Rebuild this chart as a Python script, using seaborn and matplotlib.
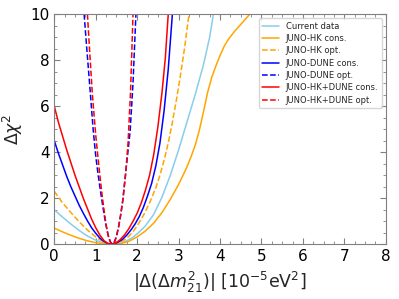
import seaborn as sns
import pandas as pd
import matplotlib.pyplot as plt
import numpy as np

# Current data
cur_x = [0, 0.2, 0.4, 0.6, 0.8, 1.0, 1.1, 1.2, 1.3, 1.4, 1.5, 1.6, 1.7, 1.8, 1.9, 2.0,
         2.2, 2.4, 2.6, 2.8, 3.0, 3.2, 3.4, 3.6, 3.75, 3.84]
cur_y = [1.5, 1.18, 0.88, 0.6, 0.36, 0.18, 0.11, 0.05, 0.015, 0.0, 0.015, 0.05, 0.11, 0.2, 0.31, 0.45,
         0.8, 1.3, 2.05, 3.0, 4.1, 5.3, 6.5, 7.8, 9.0, 10]

# JUNO-HK cons.
hkc_x = [0, 0.2, 0.4, 0.6, 0.8, 1.0, 1.2, 1.4, 1.6, 1.8, 2.0, 2.2, 2.4, 2.6, 2.8, 3.0,
         3.2, 3.3, 3.4, 3.5, 3.6, 3.7, 3.8, 3.9, 4.0, 4.1, 4.2, 4.35, 4.5, 4.72]
hkc_y = [0.7, 0.54, 0.39, 0.26, 0.15, 0.07, 0.02, 0.0, 0.03, 0.13, 0.32, 0.58, 0.92, 1.38, 1.95, 2.6,
         3.35, 3.8, 4.3, 4.95, 5.75, 6.6, 7.25, 7.75, 8.2, 8.6, 8.9, 9.25, 9.55, 10]

# JUNO-HK opt.
hko_x = [0, 0.2, 0.4, 0.6, 0.8, 1.0, 1.1, 1.2, 1.3, 1.4, 1.5, 1.6, 1.7, 1.8, 1.9, 2.0,
         2.15, 2.3, 2.45, 2.55, 2.65, 2.75, 2.85, 2.95, 3.05, 3.15, 3.25]
hko_y = [2.3, 1.8, 1.38, 0.98, 0.62, 0.32, 0.2, 0.1, 0.03, 0.0, 0.03, 0.1, 0.2, 0.35, 0.55, 0.8,
         1.25, 1.8, 2.45, 3.0, 3.65, 4.4, 5.3, 6.3, 7.4, 8.6, 10]

# JUNO-DUNE cons.
dc_x = [0, 0.1, 0.2, 0.3, 0.4, 0.5, 0.6, 0.7, 0.8, 0.9, 1.0, 1.1, 1.2, 1.3, 1.38, 1.45,
        1.55, 1.65, 1.75, 1.85, 1.95, 2.05, 2.15, 2.25, 2.35, 2.45, 2.55, 2.65, 2.75, 2.85]
dc_y = [4.5, 3.95, 3.45, 2.95, 2.5, 2.1, 1.7, 1.35, 1.02, 0.72, 0.48, 0.27, 0.12, 0.03, 0.0, 0.02,
        0.1, 0.22, 0.4, 0.62, 0.88, 1.2, 1.6, 2.1, 2.65, 3.4, 4.4, 5.8, 7.6, 10]

# JUNO-DUNE opt.
do_x = [0.72, 0.78, 0.86, 0.94, 1.0, 1.06, 1.12, 1.18, 1.24, 1.3, 1.35, 1.4, 1.45, 1.5,
        1.55, 1.6, 1.65, 1.71, 1.77, 1.83, 1.9, 1.97]
do_y = [10, 8.6, 6.8, 4.95, 3.85, 3.0, 2.25, 1.55, 0.9, 0.4, 0.12, 0.0, 0.1, 0.35,
        0.75, 1.25, 1.85, 2.9, 3.9, 4.9, 7.0, 10]

# JUNO-HK+DUNE cons.
hdc_x = [0, 0.1, 0.2, 0.3, 0.4, 0.5, 0.6, 0.7, 0.8, 0.9, 1.0, 1.1, 1.2, 1.28, 1.36, 1.44,
         1.52, 1.6, 1.7, 1.8, 1.9, 2.0, 2.1, 2.2, 2.3, 2.4, 2.5, 2.6, 2.68, 2.75]
hdc_y = [6.0, 5.3, 4.7, 4.1, 3.55, 3.0, 2.5, 2.0, 1.55, 1.1, 0.72, 0.4, 0.16, 0.04, 0.0, 0.02,
         0.1, 0.22, 0.42, 0.68, 1.0, 1.35, 1.8, 2.35, 3.0, 3.9, 5.1, 6.6, 8.1, 10]

# JUNO-HK+DUNE opt.
hdo_x = [0.8, 0.86, 0.92, 1.0, 1.05, 1.1, 1.15, 1.2, 1.25, 1.3, 1.35, 1.4, 1.45, 1.5,
         1.55, 1.6, 1.66, 1.72, 1.78, 1.84, 1.9]
hdo_y = [10, 8.2, 6.5, 4.75, 3.85, 3.0, 2.2, 1.5, 0.85, 0.38, 0.1, 0.0, 0.08, 0.32,
         0.72, 1.25, 2.0, 3.0, 4.4, 6.6, 10]

sns.set_style("ticks")
plt.rcParams['font.family'] = ['DejaVu Sans']

fig = plt.figure(figsize=(3.99, 2.99), dpi=100)
ax = fig.add_axes([0.136, 0.183, 0.831, 0.770])

series = [
    (cur_x, cur_y, "skyblue", "-", "Current data"),
    (hkc_x, hkc_y, "orange", "-", "JUNO-HK cons."),
    (hko_x, hko_y, "orange", "--", "JUNO-HK opt."),
    (dc_x, dc_y, "blue", "-", "JUNO-DUNE cons."),
    (do_x, do_y, "blue", "--", "JUNO-DUNE opt."),
    (hdc_x, hdc_y, "red", "-", "JUNO-HK+DUNE cons."),
    (hdo_x, hdo_y, "red", "--", "JUNO-HK+DUNE opt."),
]
for xs, ys, c, ls, lab in series:
    sns.lineplot(x=xs, y=ys, color=c, linestyle=ls, linewidth=1.1, label=lab, ax=ax)

ax.set_xlim(0, 8)
ax.set_ylim(0, 10)
ax.set_xticks(range(0, 9))
ax.set_yticks(range(0, 11, 2))
ax.xaxis.set_minor_locator(plt.MultipleLocator(0.25))
ax.yaxis.set_minor_locator(plt.MultipleLocator(0.5))
ax.tick_params(which="both", direction="in", top=True, right=True, colors="gray", labelcolor="black")
ax.tick_params(which="major", length=4.3, labelsize=11)
ax.tick_params(which="minor", length=2.4)
for s in ax.spines.values():
    s.set_color("gray")

ax.set_xlabel(r"$|\Delta(\Delta m^2_{21})|\ [10^{-5}\mathrm{eV}^2]$", fontsize=12.5)
ax.set_ylabel(r"$\Delta\chi^2$", fontsize=12.5)
ax.legend(loc="upper right", fontsize=6, handlelength=2.0, labelspacing=0.4)

fig.savefig("out.png", dpi=100)
